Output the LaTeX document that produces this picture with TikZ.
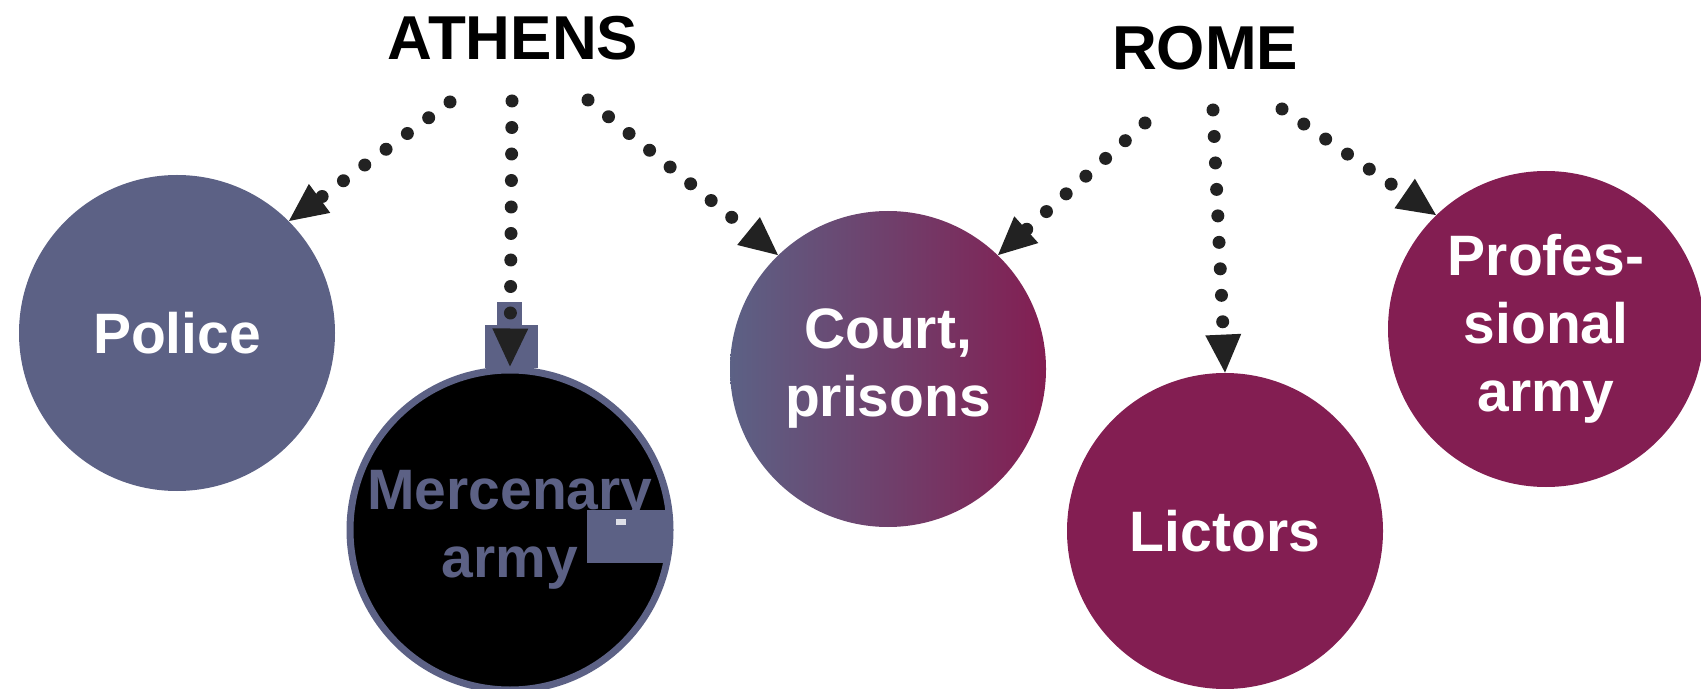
\documentclass[tikz,border=0pt]{standalone}
\usepackage{fontspec}
\setmainfont{Liberation Sans}
\usetikzlibrary{arrows.meta}
\definecolor{slate}{RGB}{92,97,133}
\definecolor{maroon}{RGB}{131,30,82}
\definecolor{dotgray}{RGB}{34,34,34}

\begin{document}
\begin{tikzpicture}[x=0.5pt,y=-0.5pt,
        city/.style={font=\fontsize{31}{36}\selectfont\bfseries},
        force/.style={circle,minimum size=158pt,inner sep=0pt,text=white,align=center,
            font=\fontsize{28.5}{34}\selectfont\bfseries},
        link/.style={draw=dotgray,line width=6.5pt,line cap=round,dash pattern=on 0pt off 13.25pt,
            -{Triangle[length=19pt,width=18pt,line width=0pt]}}]
    \useasboundingbox (0,0) rectangle (1701,689);

    \node[city] (athens) at (513,38) {ATHENS};
    \node[city] (rome) at (1205,48) {ROME};

    \node[force,fill=slate] (police) at (177,333) {Police};
    \node[force,fill=black,draw=slate,line width=3.5pt,text=slate,minimum size=160pt] (merc) at (510,530) {Mercenary\\army};
    \fill[slate] (587,510) rectangle (667,563);
    \fill[white!80!slate] (616,519) rectangle (626,525);
    \node[force,left color=slate,right color=maroon,middle color=slate!50!maroon] (court) at (888,369) {Court,\\prisons};
    \node[force,fill=maroon] (lictors) at (1225,531) {Lictors};
    \node[force,fill=maroon] (prof) at (1546,329) {Profes-\\sional\\army};

    % stray boxes round the tip above the mercenaries
    \fill[slate] (497,302) rectangle (522,325);
    \fill[slate] (485,325) rectangle (538,368);

    \coordinate (athensL) at (450,102);
    \coordinate (athensM) at (512,101);
    \coordinate (athensR) at (588,100);
    \coordinate (romeL) at (1145,123);
    \coordinate (romeM) at (1213,110);
    \coordinate (romeR) at (1282,109);

    \draw[link] (athensL) -- (police.45);
    \draw[link] (athensM) -- (merc.north);
    \draw[link] (athensR) -- (court.134);
    \draw[link] (romeL) -- (court.46);
    \draw[link] (romeM) -- (lictors.north);
    \draw[link] (romeR) -- (prof.134);
\end{tikzpicture}
\end{document}
